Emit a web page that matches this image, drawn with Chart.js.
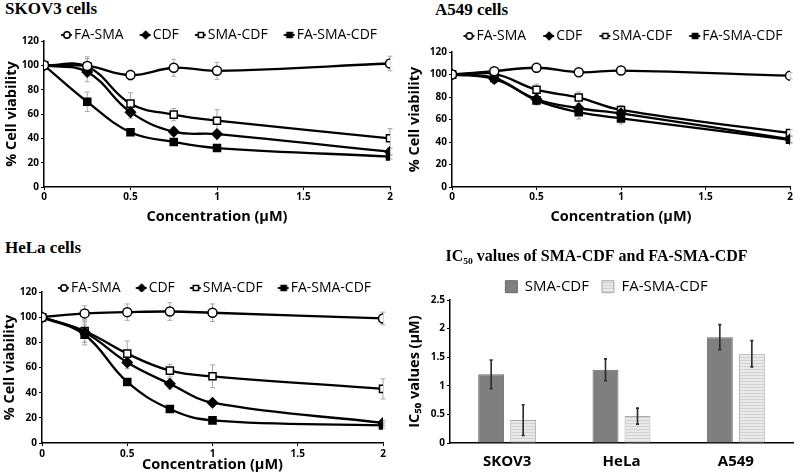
<!DOCTYPE html>
<html><head><meta charset="utf-8">
<script src="https://cdn.jsdelivr.net/npm/chart.js@4.4.1/dist/chart.umd.min.js"></script>
<style>
body{margin:0;background:#fff;width:800px;height:475px;position:relative;overflow:hidden}
.t{position:absolute;font-family:"Liberation Serif",serif;font-weight:bold;font-size:17px;line-height:20px;color:#000;white-space:nowrap}
canvas{position:absolute}
</style></head><body>
<div class="t" style="left:5px;top:-1px">SKOV3 cells</div>
<div class="t" style="left:435px;top:0px">A549 cells</div>
<div class="t" style="left:5px;top:238px">HeLa cells</div>
<canvas id="c1" width="400" height="214" style="left:0;top:16px"></canvas>
<canvas id="c2" width="400" height="214" style="left:400px;top:16px"></canvas>
<canvas id="c3" width="400" height="205" style="left:0;top:270px"></canvas>
<canvas id="c4" width="400" height="232" style="left:400px;top:243px"></canvas>
<script>
// ---------- data ----------
const concentrations = [0, 0.25, 0.5, 0.75, 1, 2];
const seriesNames = ['FA-SMA', 'CDF', 'SMA-CDF', 'FA-SMA-CDF'];

const skov3FaSma       = [100, 99.5, 92, 98, 95.5, 101.5];
const skov3FaSmaErr    = [0, 6, 4, 7, 7, 6];
const skov3Cdf         = [100, 94.5, 61.5, 45.5, 43.5, 29];
const skov3CdfErr      = [0, 8, 5, 3, 3, 3];
const skov3SmaCdf      = [100, 99, 68.5, 59.5, 54.5, 40];
const skov3SmaCdfErr   = [0, 8, 9, 5, 9, 8];
const skov3FaSmaCdf    = [100, 70, 45, 37, 32, 25];
const skov3FaSmaCdfErr = [0, 8, 2, 2, 2, 2];

const a549FaSma        = [100, 103, 106, 102, 103.5, 99];
const a549FaSmaErr     = [0, 3, 4, 2, 2, 3];
const a549Cdf          = [100, 96, 78, 70, 65.5, 42.5];
const a549CdfErr       = [0, 4, 4, 4, 4, 3];
const a549SmaCdf       = [100, 100.5, 86.5, 79.5, 68.5, 48];
const a549SmaCdfErr    = [0, 3, 5, 5, 4, 3];
const a549FaSmaCdf     = [100, 97, 77, 66.5, 61, 42];
const a549FaSmaCdfErr  = [0, 4, 4, 6, 5, 3];

const helaFaSma        = [100, 103, 104, 104.5, 103.5, 99];
const helaFaSmaErr     = [0, 6, 6.5, 7, 7, 5];
const helaCdf          = [100, 88, 64, 47, 32, 16];
const helaCdfErr       = [0, 8, 5, 4, 2, 2];
const helaSmaCdf       = [100, 89, 71, 57.5, 53, 43];
const helaSmaCdfErr    = [0, 9, 10, 5, 9, 8];
const helaFaSmaCdf     = [100, 86, 48.5, 27, 18, 14];
const helaFaSmaCdfErr  = [0, 8, 2, 2, 2, 2];

const cellLines        = ['SKOV3', 'HeLa', 'A549'];
const barSeriesNames   = ['SMA-CDF', 'FA-SMA-CDF'];
const ic50SmaCdf       = [1.2, 1.28, 1.85];
const ic50SmaCdfErr    = [0.25, 0.19, 0.22];
const ic50FaSmaCdf     = [0.4, 0.47, 1.56];
const ic50FaSmaCdfErr  = [0.27, 0.14, 0.23];

// ---------- helpers ----------
const SANS = '"Open Sans", "Noto Sans", sans-serif';
const markerStyles = ['circle', 'rectRot', 'rect', 'rect'];
const markerRadius = [4.5, 5, 5, 5];
const markerFill   = ['#fff', '#000', '#fff', '#000'];
const plainNum = v => String(Math.round(v * 100) / 100);

function legendIcon(k) {
  const c = document.createElement('canvas');
  c.width = 24; c.height = 12;
  const g = c.getContext('2d');
  g.strokeStyle = '#000'; g.lineWidth = 1.8;
  g.beginPath(); g.moveTo(11, 6); g.lineTo(22, 6); g.stroke();
  Chart.helpers.drawPoint(g, {pointStyle: markerStyles[k], radius: markerRadius[k] - 1.5, borderWidth: 1.2, rotation: 0}, 17, 6);
  g.fillStyle = markerFill[k]; g.lineWidth = 1.2; g.strokeStyle = '#000';
  g.fill(); g.stroke();
  return c;
}

const errPlugin = {
  id: 'errbars',
  beforeDatasetsDraw(chart, args, o) { if (o.behind) drawErr(chart, o); },
  afterDatasetsDraw(chart, args, o) { if (!o.behind) drawErr(chart, o); }
};
function drawErr(chart, o) {
  const ctx = chart.ctx, ys = chart.scales.y;
  ctx.save();
  ctx.strokeStyle = o.color; ctx.lineWidth = o.width;
  chart.data.datasets.forEach((ds, di) => {
    const meta = chart.getDatasetMeta(di);
    meta.data.forEach((el, i) => {
      const e = ds.errors[i]; if (!e) return;
      const v = ds.data[i].y !== undefined ? ds.data[i].y : ds.data[i];
      const x = el.x, y1 = ys.getPixelForValue(v + e), y2 = ys.getPixelForValue(v - e);
      ctx.beginPath();
      ctx.moveTo(x, y1); ctx.lineTo(x, y2);
      ctx.moveTo(x - o.cap, y1); ctx.lineTo(x + o.cap, y1);
      ctx.moveTo(x - o.cap, y2); ctx.lineTo(x + o.cap, y2);
      ctx.stroke();
    });
  });
  ctx.restore();
}

// fixes legend box height and centres / shifts the legend row
const legendH = {
  id: 'legendH',
  afterInit(chart, args, o) {
    const lg = chart.legend; if (!lg) return;
    const f = lg.fit, d = lg.draw;
    lg.fit = function () { f.apply(this, arguments); if (this.isHorizontal()) this.height = o.h; };
    lg.draw = function () {
      const ca = chart.chartArea;
      let dx = o.center ? (ca.left + ca.right) / 2 - (this.left + this.right) / 2 : 0;
      dx += o.dx || 0;
      chart.ctx.save(); chart.ctx.translate(dx, 0);
      d.apply(this, arguments);
      chart.ctx.restore();
    };
  }
};

function lineChart(id, values, errs, L) {
  return new Chart(document.getElementById(id), {
    type: 'line',
    data: {
      datasets: seriesNames.map((n, k) => ({
        label: n,
        data: concentrations.map((x, i) => ({x: x, y: values[k][i]})),
        errors: errs[k],
        borderColor: '#000', borderWidth: 2.3, tension: 0.4,
        pointStyle: markerStyles[k], pointRadius: markerRadius[k],
        pointBackgroundColor: markerFill[k], pointBorderColor: '#000', pointBorderWidth: 1.5
      }))
    },
    options: {
      responsive: false, animation: false, devicePixelRatio: 1,
      layout: {padding: {left: 0, right: L.right, top: 0, bottom: 0}},
      plugins: {
        tooltip: {enabled: false},
        legend: {
          labels: {
            usePointStyle: true, pointStyleWidth: 10, padding: L.lpad, color: '#000',
            font: {family: SANS, size: 14},
            generateLabels(chart) {
              return Chart.defaults.plugins.legend.labels.generateLabels(chart).map((it, k) => {
                it.pointStyle = legendIcon(k); return it;
              });
            }
          }
        },
        legendH: {h: L.lh, center: true},
        errbars: {behind: true, color: '#a8a8a8', width: 1, cap: 2.5}
      },
      scales: {
        x: {
          type: 'linear', min: 0, max: 2,
          ticks: {stepSize: 0.5, color: '#000', font: {family: SANS, size: 10, weight: 'bold'}, padding: L.xtp, callback: plainNum},
          grid: {drawOnChartArea: false, drawTicks: true, tickLength: 3, color: '#000'},
          border: {color: '#000', width: 1.5},
          title: {display: true, text: 'Concentration (µM)', color: '#000', font: {family: SANS, size: 14.5, weight: 'bold'}, padding: {top: 0, bottom: L.xtb}},
          afterFit(s) { s.height = L.xh; }
        },
        y: {
          min: 0, max: 120,
          ticks: {stepSize: 20, color: '#000', font: {family: SANS, size: 10, weight: 'bold'}, padding: 2},
          grid: {drawOnChartArea: false, drawTicks: true, tickLength: 3, color: '#000'},
          border: {color: '#000', width: 1.5},
          title: {display: true, text: '% Cell viability', color: '#000', font: {family: SANS, size: 14.5, weight: 'bold'}, padding: {top: L.ytp, bottom: 0}},
          afterFit(s) { s.width = L.yw; }
        }
      }
    },
    plugins: [errPlugin, legendH]
  });
}

lineChart('c1',
  [skov3FaSma, skov3Cdf, skov3SmaCdf, skov3FaSmaCdf],
  [skov3FaSmaErr, skov3CdfErr, skov3SmaCdfErr, skov3FaSmaCdfErr],
  {right: 10, lpad: 12, lh: 25, xh: 43, xtp: 1, xtb: 4, yw: 44, ytp: 3});
lineChart('c2',
  [a549FaSma, a549Cdf, a549SmaCdf, a549FaSmaCdf],
  [a549FaSmaErr, a549CdfErr, a549SmaCdfErr, a549FaSmaCdfErr],
  {right: 10, lpad: 13, lh: 36, xh: 43, xtp: 1, xtb: 4, yw: 52, ytp: 6});
lineChart('c3',
  [helaFaSma, helaCdf, helaSmaCdf, helaFaSmaCdf],
  [helaFaSmaErr, helaCdfErr, helaSmaCdfErr, helaFaSmaCdfErr],
  {right: 17, lpad: 11, lh: 22, xh: 32, xtp: 2, xtb: 1, yw: 42, ytp: 1});

// bar chart
const pc = document.createElement('canvas'); pc.width = 4; pc.height = 3;
const pg = pc.getContext('2d');
pg.fillStyle = '#e9e9e9'; pg.fillRect(0, 0, 4, 3);
pg.fillStyle = '#d2d2d2'; pg.fillRect(0, 0, 4, 1);
const stripe = document.getElementById('c4').getContext('2d').createPattern(pc, 'repeat');

new Chart(document.getElementById('c4'), {
  type: 'bar',
  data: {
    labels: cellLines,
    datasets: [
      {label: barSeriesNames[0], data: ic50SmaCdf, errors: ic50SmaCdfErr, backgroundColor: '#7f7f7f', borderColor: '#6a6a6a', borderWidth: 1},
      {label: barSeriesNames[1], data: ic50FaSmaCdf, errors: ic50FaSmaCdfErr, backgroundColor: stripe, borderColor: '#a9a9a9', borderWidth: 1}
    ]
  },
  options: {
    responsive: false, animation: false, devicePixelRatio: 1,
    categoryPercentage: 0.56, barPercentage: 0.81,
    layout: {padding: {left: 0, right: 7, top: 0, bottom: 0}},
    plugins: {
      tooltip: {enabled: false},
      title: {display: true, text: 'IC₅₀ values of SMA-CDF and FA-SMA-CDF', color: '#000',
        font: {family: '"Liberation Serif", serif', size: 16, weight: 'bold'}, padding: {top: 4, bottom: 0}},
      legend: {labels: {boxWidth: 12, boxHeight: 12, padding: 13, color: '#000', font: {family: SANS, size: 15}}},
      legendH: {h: 33.8, center: false, dx: 10},
      errbars: {behind: false, color: '#2a2a2a', width: 1.6, cap: 1.5}
    },
    scales: {
      x: {
        grid: {display: false, drawTicks: false},
        border: {color: '#000', width: 1.5},
        ticks: {color: '#000', font: {family: SANS, size: 15, weight: 'bold'}, padding: 10},
        afterFit(s) { s.height = 32; }
      },
      y: {
        min: 0, max: 2.5,
        ticks: {stepSize: 0.5, color: '#000', font: {family: SANS, size: 10, weight: 'bold'}, padding: 2, callback: plainNum},
        grid: {drawOnChartArea: false, drawTicks: true, tickLength: 3, color: '#000'},
        border: {color: '#000', width: 1.5},
        title: {display: true, text: 'IC₅₀ values (µM)', color: '#000', font: {family: SANS, size: 14.5, weight: 'bold'}, padding: {top: 6, bottom: 0}},
        afterFit(s) { s.width = 50; }
      }
    }
  },
  plugins: [errPlugin, legendH]
});
</script>
</body></html>
